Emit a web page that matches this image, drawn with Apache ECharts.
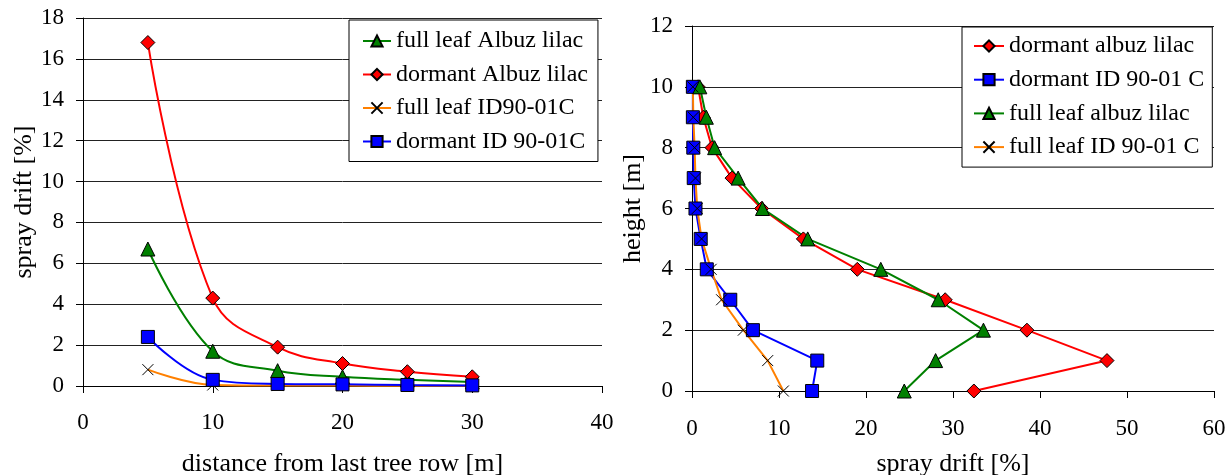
<!DOCTYPE html>
<html>
<head>
<meta charset="utf-8">
<script src="https://cdn.jsdelivr.net/npm/echarts@6/dist/echarts.min.js"></script>
<style>
  html, body { margin: 0; padding: 0; background: #fff; }
  #chart { width: 1231px; height: 475px; }
</style>
</head>
<body>
<div id="chart"></div>
<script>
// left chart: drift vs distance
const distances = [5, 10, 15, 20, 25, 30];
const fullLeafAlbuz = [6.7, 1.7, 0.75, 0.45, 0.3, 0.2];
const dormantAlbuz = [16.8, 4.3, 1.9, 1.1, 0.7, 0.45];
const fullLeafID = [0.8, 0.05, 0.02, 0.02, 0.01, 0.01];
const dormantID = [2.4, 0.3, 0.1, 0.08, 0.05, 0.03];

// right chart: drift profile vs height
const heights = [10, 9, 8, 7, 6, 5, 4, 3, 2, 1, 0];
const profDormantAlbuz = [0.7, 1.3, 2.3, 4.6, 8.0, 12.8, 19.0, 29.1, 38.5, 47.7, 32.4];
const profDormantID = [0.1, 0.1, 0.15, 0.2, 0.4, 1.0, 1.7, 4.4, 7.0, 14.4, 13.8];
const profFullLeafAlbuz = [0.9, 1.65, 2.6, 5.3, 8.1, 13.3, 21.7, 28.3, 33.5, 28.0, 24.4];
const profFullLeafID = [0.1, 0.15, 0.3, 0.4, 0.6, 1.1, 2.2, 3.4, 5.9, 8.7, 10.5];

const FONT = 'Liberation Serif';
const crossSymbol = 'path://M0,0L10,10M10,0L0,10';

function pairs(xs, ys) {
    return xs.map((x, i) => [x, ys[i]]);
}

function styleFor(kind) {
    if (kind === 'green') {
        return { symbol: 'triangle', symbolSize: 14, color: '#008000', line: '#008000' };
    }
    if (kind === 'red') {
        return { symbol: 'diamond', symbolSize: 14, color: '#ff0000', line: '#ff0000' };
    }
    if (kind === 'blue') {
        return { symbol: 'rect', symbolSize: 13, color: '#0000ff', line: '#0000ff' };
    }
    return { symbol: crossSymbol, symbolSize: 11, color: 'transparent', line: '#ff8000' };
}

function makeSeries(name, kind, data, idx, smooth) {
    const s = styleFor(kind);
    return {
        name: name,
        type: 'line',
        xAxisIndex: idx,
        yAxisIndex: idx,
        data: data,
        smooth: smooth,
        symbol: s.symbol,
        symbolSize: s.symbolSize,
        showAllSymbol: true,
        lineStyle: { color: s.line, width: 2 },
        itemStyle: { color: s.color, borderColor: '#000', borderWidth: 1 },
        emphasis: { disabled: true },
        animation: false
    };
}

const tickText = { fontFamily: FONT, fontSize: 23, color: '#000' };
const titleText = { fontFamily: FONT, fontSize: 26, color: '#000' };

function valueAxis(opts) {
    return Object.assign({
        type: 'value',
        axisLine: { show: true, onZero: false, lineStyle: { color: '#000', width: 1 } },
        axisTick: { show: true, inside: false, length: 7, lineStyle: { color: '#000' } },
        axisLabel: Object.assign({ margin: 19 }, tickText),
        splitLine: { show: false },
        nameLocation: 'middle',
        nameTextStyle: titleText
    }, opts);
}

const legendText = { fontFamily: FONT, fontSize: 24, color: '#000', lineHeight: 24 };

const chart = echarts.init(document.getElementById('chart'));

chart.setOption({
    backgroundColor: '#fff',
    animation: false,
    grid: [
        { left: 83, top: 18, width: 519, height: 368, outerBoundsMode: 'none', containLabel: false },
        { left: 692, top: 26, width: 522, height: 365, outerBoundsMode: 'none', containLabel: false }
    ],
    xAxis: [
        valueAxis({
            gridIndex: 0, min: 0, max: 40, interval: 10,
            name: 'distance from last tree row [m]', nameGap: 65,
            axisLabel: Object.assign({ margin: 25 }, tickText)
        }),
        valueAxis({
            gridIndex: 1, min: 0, max: 60, interval: 10,
            name: 'spray drift [%]', nameGap: 60,
            axisLabel: Object.assign({ margin: 26 }, tickText)
        })
    ],
    yAxis: [
        valueAxis({
            gridIndex: 0, min: 0, max: 18, interval: 2,
            name: 'spray drift [%]', nameGap: 46,
            splitLine: { show: true, lineStyle: { color: '#222', width: 1 } }
        }),
        valueAxis({
            gridIndex: 1, min: 0, max: 12, interval: 2,
            name: 'height [m]', nameGap: 46,
            splitLine: { show: true, lineStyle: { color: '#222', width: 1 } }
        })
    ],
    legend: [
        {
            data: ['full leaf Albuz lilac', 'dormant Albuz lilac', 'full leaf ID90-01C', 'dormant ID 90-01C'],
            orient: 'vertical',
            left: 349, top: 20,
            padding: [9, 10, 8, 13],
            itemWidth: 28, itemHeight: 14, itemGap: 9.5,
            borderColor: '#000', borderWidth: 1,
            backgroundColor: '#fff',
            textStyle: legendText
        },
        {
            data: ['dormant albuz lilac', 'dormant ID 90-01 C', 'full leaf albuz lilac', 'full leaf ID 90-01 C'],
            orient: 'vertical',
            left: 962, top: 27,
            padding: [7, 8, 8, 11],
            itemWidth: 30, itemHeight: 14, itemGap: 9.7,
            borderColor: '#000', borderWidth: 1,
            backgroundColor: '#fff',
            textStyle: legendText
        }
    ],
    series: [
        makeSeries('full leaf Albuz lilac', 'green', pairs(distances, fullLeafAlbuz), 0, 0.4),
        makeSeries('dormant Albuz lilac', 'red', pairs(distances, dormantAlbuz), 0, 0.4),
        makeSeries('full leaf ID90-01C', 'cross', pairs(distances, fullLeafID), 0, 0.4),
        makeSeries('dormant ID 90-01C', 'blue', pairs(distances, dormantID), 0, 0.4),
        makeSeries('dormant albuz lilac', 'red', pairs(profDormantAlbuz, heights), 1, false),
        makeSeries('dormant ID 90-01 C', 'blue', pairs(profDormantID, heights), 1, false),
        makeSeries('full leaf albuz lilac', 'green', pairs(profFullLeafAlbuz, heights), 1, false),
        makeSeries('full leaf ID 90-01 C', 'cross', pairs(profFullLeafID, heights), 1, false)
    ]
});
</script>
</body>
</html>
